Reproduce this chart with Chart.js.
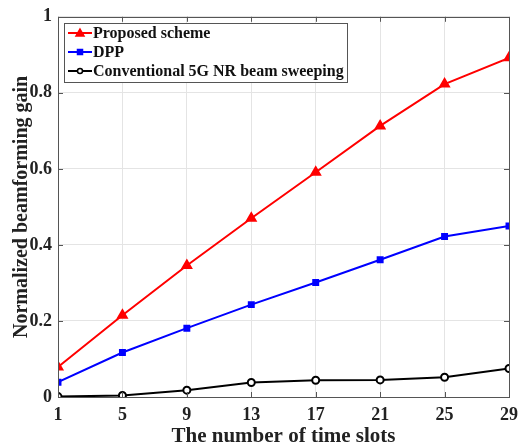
<!DOCTYPE html>
<html>
<head>
    <title>Normalized beamforming gain</title>
    <script src="https://cdn.jsdelivr.net/npm/chart.js"></script>
    <style>
        body {
            margin: 0;
            background: white;
        }
        #wrap {
            width: 526px;
            height: 445px;
        }
    </style>
</head>
<body>
    <div id="wrap"><canvas id="gainChart" width="526" height="445"></canvas></div>

    <script>
        // time slots on the x axis
        const timeSlots = [1, 5, 9, 13, 17, 21, 25, 29];
        const seriesNames = ["Proposed scheme", "DPP", "Conventional 5G NR beam sweeping"];
        const proposed = [0.079, 0.215, 0.346, 0.470, 0.591, 0.713, 0.823, 0.892];
        const dpp = [0.039, 0.117, 0.181, 0.243, 0.301, 0.361, 0.422, 0.450];
        const conventional = [0.001, 0.004, 0.018, 0.038, 0.044, 0.045, 0.052, 0.075];
        const xTicks = [1, 5, 9, 13, 17, 21, 25, 29];
        const yTicks = [0, 0.2, 0.4, 0.6, 0.8, 1];

        const serif = "'Liberation Serif', 'Times New Roman', serif";

        function toPoints(arr) {
            return timeSlots.map((t, i) => ({ x: t, y: arr[i] }));
        }

        // box around the plot with inward ticks, plus the legend drawn inside
        const boxPlugin = {
            id: "boxPlugin",
            afterDraw(chart) {
                const ctx = chart.ctx;
                const a = chart.chartArea;
                const xs = chart.scales.x, ys = chart.scales.y;
                ctx.save();
                ctx.strokeStyle = "#555";
                ctx.lineWidth = 1;
                ctx.beginPath();
                xTicks.forEach(t => {
                    const px = Math.round(xs.getPixelForValue(t)) + 0.5;
                    ctx.moveTo(px, a.bottom); ctx.lineTo(px, a.bottom - 5);
                    ctx.moveTo(px, a.top); ctx.lineTo(px, a.top + 5);
                });
                yTicks.forEach(t => {
                    const py = Math.round(ys.getPixelForValue(t)) + 0.5;
                    ctx.moveTo(a.left, py); ctx.lineTo(a.left + 5, py);
                    ctx.moveTo(a.right, py); ctx.lineTo(a.right - 5, py);
                });
                ctx.stroke();
                ctx.strokeRect(Math.round(a.left) + 0.5, Math.round(a.top) + 0.5,
                    Math.round(a.right - a.left), Math.round(a.bottom - a.top));

                // legend
                const lx = 64, ly = 23, lw = 283, lh = 59;
                ctx.fillStyle = "white";
                ctx.fillRect(lx, ly, lw, lh);
                ctx.strokeStyle = "#555";
                ctx.strokeRect(lx + 0.5, ly + 0.5, lw, lh);
                ctx.font = "bold 16px " + serif;
                ctx.textBaseline = "middle";
                chart.data.datasets.forEach((ds, i) => {
                    const y = ly + 10 + i * 19;
                    ctx.strokeStyle = ds.borderColor;
                    ctx.lineWidth = 2;
                    ctx.beginPath();
                    ctx.moveTo(lx + 4, y); ctx.lineTo(lx + 28, y);
                    ctx.stroke();
                    ctx.fillStyle = ds.pointBackgroundColor;
                    ctx.strokeStyle = ds.borderColor;
                    ctx.lineWidth = 1.5;
                    const cx = lx + 16;
                    ctx.beginPath();
                    if (ds.pointStyle === "triangle") {
                        ctx.moveTo(cx, y - 4); ctx.lineTo(cx + 4, y + 3); ctx.lineTo(cx - 4, y + 3); ctx.closePath();
                    } else if (ds.pointStyle === "rect") {
                        ctx.rect(cx - 2.5, y - 2.5, 5, 5);
                    } else {
                        ctx.arc(cx, y, 2.5, 0, Math.PI * 2);
                    }
                    ctx.fill(); ctx.stroke();
                    ctx.fillStyle = "#111";
                    ctx.fillText(ds.label, lx + 29, y + 1);
                });
                ctx.restore();
            }
        };

        const ctx = document.getElementById("gainChart").getContext("2d");
        new Chart(ctx, {
            type: "line",
            data: {
                datasets: [{
                    label: seriesNames[0],
                    data: toPoints(proposed),
                    borderColor: "#ff0000",
                    backgroundColor: "#ff0000",
                    pointBackgroundColor: "#ff0000",
                    pointStyle: "triangle",
                    pointRadius: 5,
                    borderWidth: 2
                }, {
                    label: seriesNames[1],
                    data: toPoints(dpp),
                    borderColor: "#0000ff",
                    backgroundColor: "#0000ff",
                    pointBackgroundColor: "#0000ff",
                    pointStyle: "rect",
                    pointRadius: 3.5,
                    borderWidth: 2
                }, {
                    label: seriesNames[2],
                    data: toPoints(conventional),
                    borderColor: "#000000",
                    backgroundColor: "#ffffff",
                    pointBackgroundColor: "#ffffff",
                    pointStyle: "circle",
                    pointRadius: 3.5,
                    pointBorderWidth: 2,
                    borderWidth: 2
                }]
            },
            options: {
                responsive: false,
                animation: false,
                layout: { padding: { top: 16, right: 10, left: 0, bottom: 0 } },
                plugins: {
                    legend: { display: false },
                    tooltip: { enabled: false }
                },
                scales: {
                    x: {
                        type: "linear",
                        min: 1,
                        max: 29,
                        afterBuildTicks: s => { s.ticks = xTicks.map(v => ({ value: v })); },
                        afterFit: s => { s.height = 48; },
                        grid: { color: "#e4e4e4", drawTicks: false },
                        border: { display: false },
                        ticks: {
                            padding: 8,
                            color: "#222",
                            font: { family: serif, size: 18, weight: "bold" }
                        },
                        title: {
                            display: true,
                            text: "The number of time slots",
                            color: "#222",
                            padding: { top: 0, bottom: 0 },
                            font: { family: serif, size: 21, weight: "bold", lineHeight: 0.8 }
                        }
                    },
                    y: {
                        min: 0,
                        max: 1,
                        afterBuildTicks: s => { s.ticks = yTicks.map(v => ({ value: v })); },
                        afterFit: s => { s.width = 58; },
                        grid: { color: "#e4e4e4", drawTicks: false },
                        border: { display: false },
                        ticks: {
                            padding: 6,
                            color: "#222",
                            callback: v => String(v),
                            font: { family: serif, size: 18, weight: "bold" }
                        },
                        title: {
                            display: true,
                            text: "Normalized beamforming gain",
                            color: "#222",
                            padding: { top: 10, bottom: 0 },
                            font: { family: serif, size: 20, weight: "bold" }
                        }
                    }
                }
            },
            plugins: [boxPlugin]
        });
    </script>
</body>
</html>
